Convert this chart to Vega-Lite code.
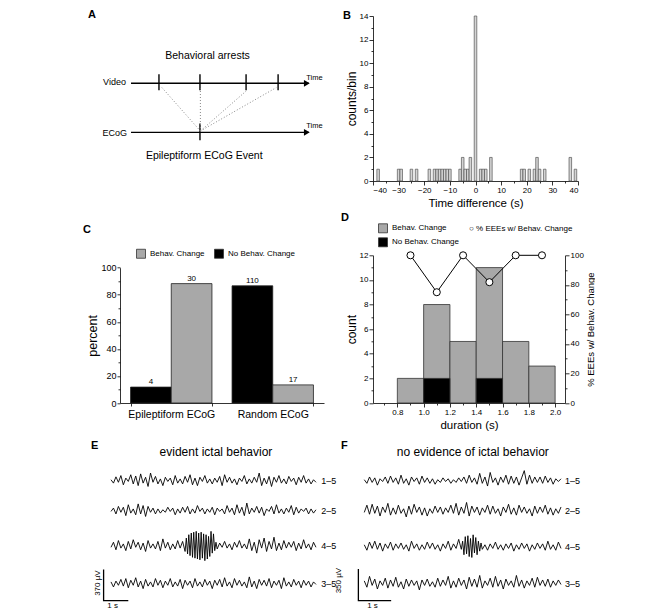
{
"$schema":"https://vega.github.io/schema/vega-lite/v6.json",
"background":"white",
"padding":{"left":82,"top":9,"right":0,"bottom":0},
"columns":2,
"bounds":"flush",
"align":"each",
"spacing":{"row":74.3,"column":49},
"resolve":{"scale":{"color":"independent","shape":"independent"},"legend":{"color":"independent","shape":"independent"}},
"config":{
 "font":"Liberation Sans",
 "view":{"stroke":null},
 "axis":{"domainColor":"black","tickColor":"black","labelColor":"black","titleColor":"black","titleFontWeight":"normal","grid":false,"labelFontSize":8,"tickSize":4,"domainWidth":0.8,"tickWidth":0.8,"labelPadding":1,"titlePadding":2,"labelOverlap":false},
 "legend":{"labelColor":"black","labelFontSize":8,"padding":0},
 "text":{"color":"black"},
 "title":{"color":"black"}
},
"datasets":{
"e":[
{"c":"1–5","t":0,"v":10},{"c":"1–5","t":0.1,"v":-30},{"c":"1–5","t":0.2,"v":45},{"c":"1–5","t":0.3,"v":-20},{"c":"1–5","t":0.4,"v":60},{"c":"1–5","t":0.5,"v":-50},{"c":"1–5","t":0.6,"v":30},{"c":"1–5","t":0.7,"v":-10},{"c":"1–5","t":0.8,"v":70},{"c":"1–5","t":0.9,"v":-40},
{"c":"1–5","t":1,"v":55},{"c":"1–5","t":1.1,"v":-60},{"c":"1–5","t":1.2,"v":80},{"c":"1–5","t":1.3,"v":-30},{"c":"1–5","t":1.4,"v":40},{"c":"1–5","t":1.5,"v":-70},{"c":"1–5","t":1.6,"v":90},{"c":"1–5","t":1.7,"v":-20},{"c":"1–5","t":1.8,"v":50},{"c":"1–5","t":1.9,"v":-40},
{"c":"1–5","t":2,"v":20},{"c":"1–5","t":2.1,"v":-60},{"c":"1–5","t":2.2,"v":40},{"c":"1–5","t":2.3,"v":-10},{"c":"1–5","t":2.4,"v":30},{"c":"1–5","t":2.5,"v":-50},{"c":"1–5","t":2.6,"v":60},{"c":"1–5","t":2.7,"v":-30},{"c":"1–5","t":2.8,"v":20},{"c":"1–5","t":2.9,"v":-40},
{"c":"1–5","t":3,"v":50},{"c":"1–5","t":3.1,"v":-20},{"c":"1–5","t":3.2,"v":70},{"c":"1–5","t":3.3,"v":-50},{"c":"1–5","t":3.4,"v":30},{"c":"1–5","t":3.5,"v":-60},{"c":"1–5","t":3.6,"v":40},{"c":"1–5","t":3.7,"v":-10},{"c":"1–5","t":3.8,"v":60},{"c":"1–5","t":3.9,"v":-30},
{"c":"1–5","t":4,"v":20},{"c":"1–5","t":4.1,"v":-40},{"c":"1–5","t":4.2,"v":30},{"c":"1–5","t":4.3,"v":-20},{"c":"1–5","t":4.4,"v":50},{"c":"1–5","t":4.5,"v":-60},{"c":"1–5","t":4.6,"v":70},{"c":"1–5","t":4.7,"v":-20},{"c":"1–5","t":4.8,"v":40},{"c":"1–5","t":4.9,"v":-30},
{"c":"1–5","t":5,"v":20},{"c":"1–5","t":5.1,"v":-50},{"c":"1–5","t":5.2,"v":30},{"c":"1–5","t":5.3,"v":-10},{"c":"1–5","t":5.4,"v":60},{"c":"1–5","t":5.5,"v":-40},{"c":"1–5","t":5.6,"v":20},{"c":"1–5","t":5.7,"v":-30},{"c":"1–5","t":5.8,"v":40},{"c":"1–5","t":5.9,"v":-20},
{"c":"1–5","t":6,"v":90},{"c":"1–5","t":6.1,"v":-60},{"c":"1–5","t":6.2,"v":30},{"c":"1–5","t":6.3,"v":-40},{"c":"1–5","t":6.4,"v":50},{"c":"1–5","t":6.5,"v":-70},{"c":"1–5","t":6.6,"v":40},{"c":"1–5","t":6.7,"v":-20},{"c":"1–5","t":6.8,"v":60},{"c":"1–5","t":6.9,"v":-30},
{"c":"1–5","t":7,"v":20},{"c":"1–5","t":7.1,"v":-40},{"c":"1–5","t":7.2,"v":50},{"c":"1–5","t":7.3,"v":-10},{"c":"1–5","t":7.4,"v":30},{"c":"1–5","t":7.5,"v":-50},{"c":"1–5","t":7.6,"v":40},{"c":"1–5","t":7.7,"v":-20},{"c":"1–5","t":7.8,"v":60},{"c":"1–5","t":7.9,"v":-30},
{"c":"1–5","t":8,"v":20},{"c":"1–5","t":8.1,"v":-40},{"c":"1–5","t":8.2,"v":10},{"c":"1–5","t":8.3,"v":-20},
{"c":"2–5","t":0,"v":-10},{"c":"2–5","t":0.1,"v":30},{"c":"2–5","t":0.2,"v":-40},{"c":"2–5","t":0.3,"v":50},{"c":"2–5","t":0.4,"v":-20},{"c":"2–5","t":0.5,"v":40},{"c":"2–5","t":0.6,"v":-60},{"c":"2–5","t":0.7,"v":70},{"c":"2–5","t":0.8,"v":-30},{"c":"2–5","t":0.9,"v":20},
{"c":"2–5","t":1,"v":-50},{"c":"2–5","t":1.1,"v":80},{"c":"2–5","t":1.2,"v":-40},{"c":"2–5","t":1.3,"v":60},{"c":"2–5","t":1.4,"v":-70},{"c":"2–5","t":1.5,"v":50},{"c":"2–5","t":1.6,"v":-20},{"c":"2–5","t":1.7,"v":30},{"c":"2–5","t":1.8,"v":-40},{"c":"2–5","t":1.9,"v":20},
{"c":"2–5","t":2,"v":-30},{"c":"2–5","t":2.1,"v":10},{"c":"2–5","t":2.2,"v":-20},{"c":"2–5","t":2.3,"v":40},{"c":"2–5","t":2.4,"v":-10},{"c":"2–5","t":2.5,"v":30},{"c":"2–5","t":2.6,"v":-50},{"c":"2–5","t":2.7,"v":20},{"c":"2–5","t":2.8,"v":-30},{"c":"2–5","t":2.9,"v":40},
{"c":"2–5","t":3,"v":-20},{"c":"2–5","t":3.1,"v":50},{"c":"2–5","t":3.2,"v":-40},{"c":"2–5","t":3.3,"v":20},{"c":"2–5","t":3.4,"v":-30},{"c":"2–5","t":3.5,"v":60},{"c":"2–5","t":3.6,"v":-10},{"c":"2–5","t":3.7,"v":30},{"c":"2–5","t":3.8,"v":-40},{"c":"2–5","t":3.9,"v":20},
{"c":"2–5","t":4,"v":-20},{"c":"2–5","t":4.1,"v":40},{"c":"2–5","t":4.2,"v":-50},{"c":"2–5","t":4.3,"v":30},{"c":"2–5","t":4.4,"v":-10},{"c":"2–5","t":4.5,"v":20},{"c":"2–5","t":4.6,"v":-40},{"c":"2–5","t":4.7,"v":60},{"c":"2–5","t":4.8,"v":-20},{"c":"2–5","t":4.9,"v":30},
{"c":"2–5","t":5,"v":-50},{"c":"2–5","t":5.1,"v":70},{"c":"2–5","t":5.2,"v":-30},{"c":"2–5","t":5.3,"v":40},{"c":"2–5","t":5.4,"v":-60},{"c":"2–5","t":5.5,"v":90},{"c":"2–5","t":5.6,"v":-40},{"c":"2–5","t":5.7,"v":30},{"c":"2–5","t":5.8,"v":-20},{"c":"2–5","t":5.9,"v":50},
{"c":"2–5","t":6,"v":-30},{"c":"2–5","t":6.1,"v":40},{"c":"2–5","t":6.2,"v":-60},{"c":"2–5","t":6.3,"v":20},{"c":"2–5","t":6.4,"v":-10},{"c":"2–5","t":6.5,"v":50},{"c":"2–5","t":6.6,"v":-40},{"c":"2–5","t":6.7,"v":70},{"c":"2–5","t":6.8,"v":-30},{"c":"2–5","t":6.9,"v":20},
{"c":"2–5","t":7,"v":-40},{"c":"2–5","t":7.1,"v":30},{"c":"2–5","t":7.2,"v":-20},{"c":"2–5","t":7.3,"v":60},{"c":"2–5","t":7.4,"v":-50},{"c":"2–5","t":7.5,"v":40},{"c":"2–5","t":7.6,"v":-30},{"c":"2–5","t":7.7,"v":20},{"c":"2–5","t":7.8,"v":-10},{"c":"2–5","t":7.9,"v":30},
{"c":"2–5","t":8,"v":-40},{"c":"2–5","t":8.1,"v":20},{"c":"2–5","t":8.2,"v":-30},{"c":"2–5","t":8.3,"v":10},
{"c":"4–5","t":0,"v":-20},{"c":"4–5","t":0.1,"v":40},{"c":"4–5","t":0.2,"v":-50},{"c":"4–5","t":0.3,"v":60},{"c":"4–5","t":0.4,"v":-30},{"c":"4–5","t":0.5,"v":20},{"c":"4–5","t":0.6,"v":-60},{"c":"4–5","t":0.7,"v":50},{"c":"4–5","t":0.8,"v":-40},{"c":"4–5","t":0.9,"v":70},
{"c":"4–5","t":1,"v":-20},{"c":"4–5","t":1.1,"v":40},{"c":"4–5","t":1.2,"v":-50},{"c":"4–5","t":1.3,"v":30},{"c":"4–5","t":1.4,"v":-70},{"c":"4–5","t":1.5,"v":60},{"c":"4–5","t":1.6,"v":-30},{"c":"4–5","t":1.7,"v":20},{"c":"4–5","t":1.8,"v":-40},{"c":"4–5","t":1.9,"v":50},
{"c":"4–5","t":2,"v":-60},{"c":"4–5","t":2.1,"v":80},{"c":"4–5","t":2.2,"v":-30},{"c":"4–5","t":2.3,"v":40},{"c":"4–5","t":2.4,"v":-50},{"c":"4–5","t":2.5,"v":20},{"c":"4–5","t":2.6,"v":-40},{"c":"4–5","t":2.7,"v":60},{"c":"4–5","t":2.8,"v":-30},{"c":"4–5","t":2.9,"v":50},
{"c":"4–5","t":3,"v":-70},{"c":"4–5","t":3.05,"v":90},{"c":"4–5","t":3.1,"v":-100},{"c":"4–5","t":3.15,"v":130},{"c":"4–5","t":3.2,"v":-120},{"c":"4–5","t":3.25,"v":150},{"c":"4–5","t":3.3,"v":-140},{"c":"4–5","t":3.35,"v":160},{"c":"4–5","t":3.4,"v":-150},{"c":"4–5","t":3.45,"v":170},
{"c":"4–5","t":3.5,"v":-160},{"c":"4–5","t":3.55,"v":150},{"c":"4–5","t":3.6,"v":-170},{"c":"4–5","t":3.65,"v":160},{"c":"4–5","t":3.7,"v":-150},{"c":"4–5","t":3.75,"v":140},{"c":"4–5","t":3.8,"v":-180},{"c":"4–5","t":3.85,"v":130},{"c":"4–5","t":3.9,"v":-160},{"c":"4–5","t":3.95,"v":110},
{"c":"4–5","t":4,"v":-130},{"c":"4–5","t":4.05,"v":170},{"c":"4–5","t":4.1,"v":-90},{"c":"4–5","t":4.15,"v":140},{"c":"4–5","t":4.2,"v":-60},{"c":"4–5","t":4.25,"v":40},
{"c":"4–5","t":4.3,"v":-40},{"c":"4–5","t":4.4,"v":30},{"c":"4–5","t":4.5,"v":-20},{"c":"4–5","t":4.6,"v":50},{"c":"4–5","t":4.7,"v":-30},{"c":"4–5","t":4.8,"v":20},{"c":"4–5","t":4.9,"v":-50},{"c":"4–5","t":5,"v":40},{"c":"4–5","t":5.1,"v":-20},{"c":"4–5","t":5.2,"v":60},
{"c":"4–5","t":5.3,"v":-30},{"c":"4–5","t":5.4,"v":20},{"c":"4–5","t":5.5,"v":-40},{"c":"4–5","t":5.6,"v":80},{"c":"4–5","t":5.7,"v":-60},{"c":"4–5","t":5.8,"v":40},{"c":"4–5","t":5.9,"v":-90},{"c":"4–5","t":6,"v":70},{"c":"4–5","t":6.1,"v":-30},{"c":"4–5","t":6.2,"v":90},
{"c":"4–5","t":6.3,"v":-70},{"c":"4–5","t":6.4,"v":50},{"c":"4–5","t":6.5,"v":-40},{"c":"4–5","t":6.6,"v":100},{"c":"4–5","t":6.7,"v":-60},{"c":"4–5","t":6.8,"v":30},{"c":"4–5","t":6.9,"v":-50},{"c":"4–5","t":7,"v":60},{"c":"4–5","t":7.1,"v":-30},{"c":"4–5","t":7.2,"v":40},
{"c":"4–5","t":7.3,"v":-20},{"c":"4–5","t":7.4,"v":50},{"c":"4–5","t":7.5,"v":-60},{"c":"4–5","t":7.6,"v":30},{"c":"4–5","t":7.7,"v":-40},{"c":"4–5","t":7.8,"v":70},{"c":"4–5","t":7.9,"v":-30},{"c":"4–5","t":8,"v":20},{"c":"4–5","t":8.1,"v":-50},{"c":"4–5","t":8.2,"v":40},
{"c":"4–5","t":8.3,"v":-20},
{"c":"3–5","t":0,"v":20},{"c":"3–5","t":0.1,"v":-40},{"c":"3–5","t":0.2,"v":30},{"c":"3–5","t":0.3,"v":-20},{"c":"3–5","t":0.4,"v":50},{"c":"3–5","t":0.5,"v":-30},{"c":"3–5","t":0.6,"v":60},{"c":"3–5","t":0.7,"v":-50},{"c":"3–5","t":0.8,"v":40},{"c":"3–5","t":0.9,"v":-20},
{"c":"3–5","t":1,"v":70},{"c":"3–5","t":1.1,"v":-40},{"c":"3–5","t":1.2,"v":30},{"c":"3–5","t":1.3,"v":-60},{"c":"3–5","t":1.4,"v":50},{"c":"3–5","t":1.5,"v":-30},{"c":"3–5","t":1.6,"v":20},{"c":"3–5","t":1.7,"v":-40},{"c":"3–5","t":1.8,"v":60},{"c":"3–5","t":1.9,"v":-20},
{"c":"3–5","t":2,"v":40},{"c":"3–5","t":2.1,"v":-50},{"c":"3–5","t":2.2,"v":30},{"c":"3–5","t":2.3,"v":-20},{"c":"3–5","t":2.4,"v":60},{"c":"3–5","t":2.5,"v":-40},{"c":"3–5","t":2.6,"v":20},{"c":"3–5","t":2.7,"v":-30},{"c":"3–5","t":2.8,"v":50},{"c":"3–5","t":2.9,"v":-60},
{"c":"3–5","t":3,"v":40},{"c":"3–5","t":3.1,"v":-20},{"c":"3–5","t":3.2,"v":30},{"c":"3–5","t":3.3,"v":-50},{"c":"3–5","t":3.4,"v":60},{"c":"3–5","t":3.5,"v":-30},{"c":"3–5","t":3.6,"v":20},{"c":"3–5","t":3.7,"v":-40},{"c":"3–5","t":3.8,"v":50},{"c":"3–5","t":3.9,"v":-20},
{"c":"3–5","t":4,"v":30},{"c":"3–5","t":4.1,"v":-60},{"c":"3–5","t":4.2,"v":40},{"c":"3–5","t":4.3,"v":-20},{"c":"3–5","t":4.4,"v":50},{"c":"3–5","t":4.5,"v":-40},{"c":"3–5","t":4.6,"v":70},{"c":"3–5","t":4.7,"v":-30},{"c":"3–5","t":4.8,"v":20},{"c":"3–5","t":4.9,"v":-50},
{"c":"3–5","t":5,"v":60},{"c":"3–5","t":5.1,"v":-20},{"c":"3–5","t":5.2,"v":40},{"c":"3–5","t":5.3,"v":-30},{"c":"3–5","t":5.4,"v":20},{"c":"3–5","t":5.5,"v":-50},{"c":"3–5","t":5.6,"v":80},{"c":"3–5","t":5.7,"v":-40},{"c":"3–5","t":5.8,"v":30},{"c":"3–5","t":5.9,"v":-60},
{"c":"3–5","t":6,"v":50},{"c":"3–5","t":6.1,"v":-20},{"c":"3–5","t":6.2,"v":40},{"c":"3–5","t":6.3,"v":-30},{"c":"3–5","t":6.4,"v":60},{"c":"3–5","t":6.5,"v":-50},{"c":"3–5","t":6.6,"v":30},{"c":"3–5","t":6.7,"v":-20},{"c":"3–5","t":6.8,"v":40},{"c":"3–5","t":6.9,"v":-60},
{"c":"3–5","t":7,"v":70},{"c":"3–5","t":7.1,"v":-30},{"c":"3–5","t":7.2,"v":20},{"c":"3–5","t":7.3,"v":-40},{"c":"3–5","t":7.4,"v":50},{"c":"3–5","t":7.5,"v":-20},{"c":"3–5","t":7.6,"v":30},{"c":"3–5","t":7.7,"v":-50},{"c":"3–5","t":7.8,"v":40},{"c":"3–5","t":7.9,"v":-20},
{"c":"3–5","t":8,"v":30},{"c":"3–5","t":8.1,"v":-40},{"c":"3–5","t":8.2,"v":20},{"c":"3–5","t":8.3,"v":-10}
],
"f":[
{"c":"1–5","t":0,"v":10},{"c":"1–5","t":0.08,"v":-30},{"c":"1–5","t":0.16,"v":40},{"c":"1–5","t":0.24,"v":-20},{"c":"1–5","t":0.32,"v":30},{"c":"1–5","t":0.4,"v":-50},{"c":"1–5","t":0.48,"v":20},{"c":"1–5","t":0.56,"v":-10},{"c":"1–5","t":0.64,"v":40},{"c":"1–5","t":0.72,"v":-30},
{"c":"1–5","t":0.8,"v":50},{"c":"1–5","t":0.88,"v":-20},{"c":"1–5","t":0.96,"v":30},{"c":"1–5","t":1.04,"v":-40},{"c":"1–5","t":1.12,"v":60},{"c":"1–5","t":1.2,"v":-30},{"c":"1–5","t":1.28,"v":20},{"c":"1–5","t":1.36,"v":-50},{"c":"1–5","t":1.44,"v":40},{"c":"1–5","t":1.52,"v":-10},
{"c":"1–5","t":1.6,"v":30},{"c":"1–5","t":1.68,"v":-40},{"c":"1–5","t":1.76,"v":50},{"c":"1–5","t":1.84,"v":-20},{"c":"1–5","t":1.92,"v":30},{"c":"1–5","t":2,"v":-30},{"c":"1–5","t":2.08,"v":20},{"c":"1–5","t":2.16,"v":-40},{"c":"1–5","t":2.24,"v":10},{"c":"1–5","t":2.32,"v":-20},
{"c":"1–5","t":2.4,"v":30},{"c":"1–5","t":2.48,"v":-10},{"c":"1–5","t":2.56,"v":20},{"c":"1–5","t":2.64,"v":-30},{"c":"1–5","t":2.72,"v":10},{"c":"1–5","t":2.8,"v":-20},{"c":"1–5","t":2.88,"v":30},{"c":"1–5","t":2.96,"v":-10},{"c":"1–5","t":3.04,"v":40},{"c":"1–5","t":3.12,"v":-30},
{"c":"1–5","t":3.2,"v":60},{"c":"1–5","t":3.28,"v":-20},{"c":"1–5","t":3.36,"v":30},{"c":"1–5","t":3.44,"v":-40},{"c":"1–5","t":3.52,"v":80},{"c":"1–5","t":3.6,"v":-30},{"c":"1–5","t":3.68,"v":40},{"c":"1–5","t":3.76,"v":-60},{"c":"1–5","t":3.84,"v":90},{"c":"1–5","t":3.92,"v":-20},
{"c":"1–5","t":4,"v":30},{"c":"1–5","t":4.08,"v":-50},{"c":"1–5","t":4.16,"v":40},{"c":"1–5","t":4.24,"v":-20},{"c":"1–5","t":4.32,"v":60},{"c":"1–5","t":4.4,"v":-40},{"c":"1–5","t":4.48,"v":50},{"c":"1–5","t":4.56,"v":-30},{"c":"1–5","t":4.64,"v":40},{"c":"1–5","t":4.72,"v":-50},
{"c":"1–5","t":4.8,"v":30},{"c":"1–5","t":4.88,"v":110},{"c":"1–5","t":4.96,"v":-40},{"c":"1–5","t":5.04,"v":60},{"c":"1–5","t":5.12,"v":-30},{"c":"1–5","t":5.2,"v":40},{"c":"1–5","t":5.28,"v":-20},{"c":"1–5","t":5.36,"v":40},{"c":"1–5","t":5.44,"v":-30},{"c":"1–5","t":5.52,"v":50},
{"c":"1–5","t":5.6,"v":-20},{"c":"1–5","t":5.68,"v":30},{"c":"1–5","t":5.76,"v":-40},{"c":"1–5","t":5.84,"v":20},{"c":"1–5","t":5.92,"v":-10},{"c":"1–5","t":6,"v":20},
{"c":"2–5","t":0,"v":-20},{"c":"2–5","t":0.08,"v":60},{"c":"2–5","t":0.16,"v":-40},{"c":"2–5","t":0.24,"v":70},{"c":"2–5","t":0.32,"v":-30},{"c":"2–5","t":0.4,"v":50},{"c":"2–5","t":0.48,"v":-60},{"c":"2–5","t":0.56,"v":40},{"c":"2–5","t":0.64,"v":-20},{"c":"2–5","t":0.72,"v":80},
{"c":"2–5","t":0.8,"v":-50},{"c":"2–5","t":0.88,"v":30},{"c":"2–5","t":0.96,"v":-40},{"c":"2–5","t":1.04,"v":60},{"c":"2–5","t":1.12,"v":-30},{"c":"2–5","t":1.2,"v":20},{"c":"2–5","t":1.28,"v":-70},{"c":"2–5","t":1.36,"v":50},{"c":"2–5","t":1.44,"v":-40},{"c":"2–5","t":1.52,"v":70},
{"c":"2–5","t":1.6,"v":-20},{"c":"2–5","t":1.68,"v":40},{"c":"2–5","t":1.76,"v":-50},{"c":"2–5","t":1.84,"v":30},{"c":"2–5","t":1.92,"v":-60},{"c":"2–5","t":2,"v":20},{"c":"2–5","t":2.08,"v":-30},{"c":"2–5","t":2.16,"v":50},{"c":"2–5","t":2.24,"v":-20},{"c":"2–5","t":2.32,"v":40},
{"c":"2–5","t":2.4,"v":-40},{"c":"2–5","t":2.48,"v":30},{"c":"2–5","t":2.56,"v":-20},{"c":"2–5","t":2.64,"v":60},{"c":"2–5","t":2.72,"v":-30},{"c":"2–5","t":2.8,"v":80},{"c":"2–5","t":2.88,"v":-50},{"c":"2–5","t":2.96,"v":40},{"c":"2–5","t":3.04,"v":-30},{"c":"2–5","t":3.12,"v":90},
{"c":"2–5","t":3.2,"v":-60},{"c":"2–5","t":3.28,"v":50},{"c":"2–5","t":3.36,"v":-20},{"c":"2–5","t":3.44,"v":40},{"c":"2–5","t":3.52,"v":-50},{"c":"2–5","t":3.6,"v":30},{"c":"2–5","t":3.68,"v":-20},{"c":"2–5","t":3.76,"v":60},{"c":"2–5","t":3.84,"v":-40},{"c":"2–5","t":3.92,"v":50},
{"c":"2–5","t":4,"v":-30},{"c":"2–5","t":4.08,"v":20},{"c":"2–5","t":4.16,"v":-60},{"c":"2–5","t":4.24,"v":40},{"c":"2–5","t":4.32,"v":-20},{"c":"2–5","t":4.4,"v":70},{"c":"2–5","t":4.48,"v":-40},{"c":"2–5","t":4.56,"v":30},{"c":"2–5","t":4.64,"v":-50},{"c":"2–5","t":4.72,"v":60},
{"c":"2–5","t":4.8,"v":-20},{"c":"2–5","t":4.88,"v":40},{"c":"2–5","t":4.96,"v":-30},{"c":"2–5","t":5.04,"v":20},{"c":"2–5","t":5.12,"v":-60},{"c":"2–5","t":5.2,"v":50},{"c":"2–5","t":5.28,"v":-30},{"c":"2–5","t":5.36,"v":40},{"c":"2–5","t":5.44,"v":-20},{"c":"2–5","t":5.52,"v":60},
{"c":"2–5","t":5.6,"v":-40},{"c":"2–5","t":5.68,"v":30},{"c":"2–5","t":5.76,"v":-50},{"c":"2–5","t":5.84,"v":20},{"c":"2–5","t":5.92,"v":-30},{"c":"2–5","t":6,"v":40},
{"c":"4–5","t":0,"v":20},{"c":"4–5","t":0.08,"v":-40},{"c":"4–5","t":0.16,"v":50},{"c":"4–5","t":0.24,"v":-20},{"c":"4–5","t":0.32,"v":60},{"c":"4–5","t":0.4,"v":-30},{"c":"4–5","t":0.48,"v":40},{"c":"4–5","t":0.56,"v":-50},{"c":"4–5","t":0.64,"v":30},{"c":"4–5","t":0.72,"v":-20},
{"c":"4–5","t":0.8,"v":50},{"c":"4–5","t":0.88,"v":-40},{"c":"4–5","t":0.96,"v":30},{"c":"4–5","t":1.04,"v":-20},{"c":"4–5","t":1.12,"v":40},{"c":"4–5","t":1.2,"v":-30},{"c":"4–5","t":1.28,"v":20},{"c":"4–5","t":1.36,"v":-50},{"c":"4–5","t":1.44,"v":60},{"c":"4–5","t":1.52,"v":-20},
{"c":"4–5","t":1.6,"v":30},{"c":"4–5","t":1.68,"v":-40},{"c":"4–5","t":1.76,"v":20},{"c":"4–5","t":1.84,"v":-30},{"c":"4–5","t":1.92,"v":50},{"c":"4–5","t":2,"v":-20},{"c":"4–5","t":2.08,"v":40},{"c":"4–5","t":2.16,"v":-30},{"c":"4–5","t":2.24,"v":20},{"c":"4–5","t":2.32,"v":-50},
{"c":"4–5","t":2.4,"v":30},{"c":"4–5","t":2.48,"v":-20},{"c":"4–5","t":2.56,"v":60},{"c":"4–5","t":2.64,"v":-40},{"c":"4–5","t":2.72,"v":30},{"c":"4–5","t":2.8,"v":-20},{"c":"4–5","t":2.88,"v":80},{"c":"4–5","t":2.96,"v":-30},
{"c":"4–5","t":3,"v":60},{"c":"4–5","t":3.04,"v":-90},{"c":"4–5","t":3.08,"v":110},{"c":"4–5","t":3.12,"v":-80},{"c":"4–5","t":3.16,"v":120},{"c":"4–5","t":3.2,"v":-110},{"c":"4–5","t":3.24,"v":90},{"c":"4–5","t":3.28,"v":-120},{"c":"4–5","t":3.32,"v":130},{"c":"4–5","t":3.36,"v":-70},
{"c":"4–5","t":3.4,"v":100},{"c":"4–5","t":3.44,"v":-90},{"c":"4–5","t":3.48,"v":60},{"c":"4–5","t":3.52,"v":-50},{"c":"4–5","t":3.56,"v":40},
{"c":"4–5","t":3.6,"v":-30},{"c":"4–5","t":3.68,"v":20},{"c":"4–5","t":3.76,"v":-40},{"c":"4–5","t":3.84,"v":30},{"c":"4–5","t":3.92,"v":-20},{"c":"4–5","t":4,"v":50},{"c":"4–5","t":4.08,"v":-30},{"c":"4–5","t":4.16,"v":20},{"c":"4–5","t":4.24,"v":-40},{"c":"4–5","t":4.32,"v":30},
{"c":"4–5","t":4.4,"v":-20},{"c":"4–5","t":4.48,"v":40},{"c":"4–5","t":4.56,"v":-50},{"c":"4–5","t":4.64,"v":20},{"c":"4–5","t":4.72,"v":-30},{"c":"4–5","t":4.8,"v":40},{"c":"4–5","t":4.88,"v":-20},{"c":"4–5","t":4.96,"v":30},{"c":"4–5","t":5.04,"v":-50},{"c":"4–5","t":5.12,"v":20},
{"c":"4–5","t":5.2,"v":-30},{"c":"4–5","t":5.28,"v":40},{"c":"4–5","t":5.36,"v":-20},{"c":"4–5","t":5.44,"v":30},{"c":"4–5","t":5.52,"v":-40},{"c":"4–5","t":5.6,"v":60},{"c":"4–5","t":5.68,"v":-30},{"c":"4–5","t":5.76,"v":20},{"c":"4–5","t":5.84,"v":-40},{"c":"4–5","t":5.92,"v":50},
{"c":"4–5","t":6,"v":-20},
{"c":"3–5","t":0,"v":30},{"c":"3–5","t":0.08,"v":-40},{"c":"3–5","t":0.16,"v":80},{"c":"3–5","t":0.24,"v":-20},{"c":"3–5","t":0.32,"v":50},{"c":"3–5","t":0.4,"v":-60},{"c":"3–5","t":0.48,"v":30},{"c":"3–5","t":0.56,"v":-20},{"c":"3–5","t":0.64,"v":60},{"c":"3–5","t":0.72,"v":-50},
{"c":"3–5","t":0.8,"v":40},{"c":"3–5","t":0.88,"v":-30},{"c":"3–5","t":0.96,"v":70},{"c":"3–5","t":1.04,"v":-40},{"c":"3–5","t":1.12,"v":20},{"c":"3–5","t":1.2,"v":-60},{"c":"3–5","t":1.28,"v":50},{"c":"3–5","t":1.36,"v":-30},{"c":"3–5","t":1.44,"v":40},{"c":"3–5","t":1.52,"v":-20},
{"c":"3–5","t":1.6,"v":30},{"c":"3–5","t":1.68,"v":-70},{"c":"3–5","t":1.76,"v":40},{"c":"3–5","t":1.84,"v":-20},{"c":"3–5","t":1.92,"v":50},{"c":"3–5","t":2,"v":-30},{"c":"3–5","t":2.08,"v":20},{"c":"3–5","t":2.16,"v":-40},{"c":"3–5","t":2.24,"v":60},{"c":"3–5","t":2.32,"v":-30},
{"c":"3–5","t":2.4,"v":40},{"c":"3–5","t":2.48,"v":-20},{"c":"3–5","t":2.56,"v":80},{"c":"3–5","t":2.64,"v":-50},{"c":"3–5","t":2.72,"v":30},{"c":"3–5","t":2.8,"v":-40},{"c":"3–5","t":2.88,"v":60},{"c":"3–5","t":2.96,"v":-20},{"c":"3–5","t":3.04,"v":40},{"c":"3–5","t":3.12,"v":-60},
{"c":"3–5","t":3.2,"v":70},{"c":"3–5","t":3.28,"v":-30},{"c":"3–5","t":3.36,"v":50},{"c":"3–5","t":3.44,"v":-40},{"c":"3–5","t":3.52,"v":90},{"c":"3–5","t":3.6,"v":-50},{"c":"3–5","t":3.68,"v":30},{"c":"3–5","t":3.76,"v":-20},{"c":"3–5","t":3.84,"v":60},{"c":"3–5","t":3.92,"v":-40},
{"c":"3–5","t":4,"v":80},{"c":"3–5","t":4.08,"v":-30},{"c":"3–5","t":4.16,"v":40},{"c":"3–5","t":4.24,"v":-60},{"c":"3–5","t":4.32,"v":50},{"c":"3–5","t":4.4,"v":-20},{"c":"3–5","t":4.48,"v":30},{"c":"3–5","t":4.56,"v":-40},{"c":"3–5","t":4.64,"v":90},{"c":"3–5","t":4.72,"v":-30},
{"c":"3–5","t":4.8,"v":40},{"c":"3–5","t":4.88,"v":-50},{"c":"3–5","t":4.96,"v":30},{"c":"3–5","t":5.04,"v":-20},{"c":"3–5","t":5.12,"v":60},{"c":"3–5","t":5.2,"v":-40},{"c":"3–5","t":5.28,"v":70},{"c":"3–5","t":5.36,"v":-20},{"c":"3–5","t":5.44,"v":40},{"c":"3–5","t":5.52,"v":-30},
{"c":"3–5","t":5.6,"v":50},{"c":"3–5","t":5.68,"v":-40},{"c":"3–5","t":5.76,"v":30},{"c":"3–5","t":5.84,"v":-20},{"c":"3–5","t":5.92,"v":40},{"c":"3–5","t":6,"v":-10}
]
},
"concat":[
{
 "width":204,"height":165,
 "layer":[
  {"data":{"values":[{"axis":"Video","x":5.4,"x2":92.5,"y":59.2},{"axis":"ECoG","x":5.4,"x2":92.5,"y":29.5}]},
   "mark":{"type":"rule","color":"black","strokeWidth":1.4},
   "encoding":{"x":{"field":"x","type":"quantitative","scale":{"domain":[0,100],"nice":false},"axis":null},"x2":{"field":"x2"},"y":{"field":"y","type":"quantitative","scale":{"domain":[0,100],"nice":false},"axis":null}}},
  {"data":{"values":[{"x":19.1,"y":55,"y2":64.7},{"x":39.2,"y":55,"y2":64.7},{"x":61.8,"y":55,"y2":64.7},{"x":77.5,"y":55,"y2":64.7},{"x":39.2,"y":24.7,"y2":34.8}]},
   "mark":{"type":"rule","color":"black","strokeWidth":1.4},
   "encoding":{"x":{"field":"x","type":"quantitative"},"y":{"field":"y","type":"quantitative"},"y2":{"field":"y2"}}},
  {"data":{"values":[{"x":39.4,"y":30.3,"x2":20,"y2":57.4},{"x":39.4,"y":30.3,"x2":39.4,"y2":56},{"x":39.4,"y":30.3,"x2":61.8,"y2":54.5},{"x":39.4,"y":30.3,"x2":76.6,"y2":56.6}]},
   "mark":{"type":"rule","color":"#888888","strokeWidth":1,"strokeDash":[1,2]},
   "encoding":{"x":{"field":"x","type":"quantitative"},"y":{"field":"y","type":"quantitative"},"x2":{"field":"x2"},"y2":{"field":"y2"}}},
  {"data":{"values":[{"x":91.6,"y":59.2},{"x":91.6,"y":29.5}]},
   "mark":{"type":"point","shape":"triangle-right","filled":true,"color":"black","size":45,"opacity":1},
   "encoding":{"x":{"field":"x","type":"quantitative"},"y":{"field":"y","type":"quantitative"}}},
  {"data":{"values":[{"x":42.9,"y":75.6,"label":"Behavioral arrests"},{"x":41.3,"y":15,"label":"Epileptiform ECoG Event"}]},
   "mark":{"type":"text","fontSize":10.5,"baseline":"middle"},
   "encoding":{"x":{"field":"x","type":"quantitative"},"y":{"field":"y","type":"quantitative"},"text":{"field":"label"}}},
  {"data":{"values":[{"x":2.9,"y":60,"label":"Video"},{"x":3.4,"y":29,"label":"ECoG"}]},
   "mark":{"type":"text","fontSize":9,"align":"right","baseline":"middle"},
   "encoding":{"x":{"field":"x","type":"quantitative"},"y":{"field":"y","type":"quantitative"},"text":{"field":"label"}}},
  {"data":{"values":[{"x":95.3,"y":62.7,"label":"Time"},{"x":95.3,"y":33.2,"label":"Time"}]},
   "mark":{"type":"text","fontSize":7.5,"baseline":"middle"},
   "encoding":{"x":{"field":"x","type":"quantitative"},"y":{"field":"y","type":"quantitative"},"text":{"field":"label"}}},
  {"data":{"values":[{"x":-15.7,"y":100.4,"label":"A"}]},
   "mark":{"type":"text","fontSize":11,"fontWeight":"bold","align":"left","baseline":"middle"},
   "encoding":{"x":{"field":"x","type":"quantitative"},"y":{"field":"y","type":"quantitative"},"text":{"field":"label"}}}
 ]
},
{
 "width":205,"height":165,
 "title":{"text":"B","anchor":"start","frame":"bounds","fontSize":11,"fontWeight":"bold","baseline":"middle","offset":-15,"dx":-2},
 "data":{"values":[
    {"lo":-38.5,"hi":-37.5,"n":1},{"lo":-30.5,"hi":-29.5,"n":1},{"lo":-29.5,"hi":-28.5,"n":1},{"lo":-25.5,"hi":-24.5,"n":1},{"lo":-23.5,"hi":-22.5,"n":1},{"lo":-18.5,"hi":-17.5,"n":1},
    {"lo":-16.5,"hi":-15.5,"n":1},{"lo":-15.5,"hi":-14.5,"n":1},{"lo":-14.5,"hi":-13.5,"n":1},{"lo":-13.5,"hi":-12.5,"n":1},{"lo":-12.5,"hi":-11.5,"n":1},{"lo":-11.5,"hi":-10.5,"n":1},{"lo":-10.5,"hi":-9.5,"n":1},
    {"lo":-6.5,"hi":-5.5,"n":1},{"lo":-5.5,"hi":-4.5,"n":2},{"lo":-4.5,"hi":-3.5,"n":1},{"lo":-3.5,"hi":-2.5,"n":1},{"lo":-2.5,"hi":-1.5,"n":2},{"lo":-0.5,"hi":0.5,"n":14},
    {"lo":1.5,"hi":2.5,"n":1},{"lo":2.5,"hi":3.5,"n":1},{"lo":3.5,"hi":4.5,"n":1},{"lo":5.5,"hi":6.5,"n":2},
    {"lo":17.5,"hi":18.5,"n":1},{"lo":18.5,"hi":19.5,"n":1},{"lo":20.5,"hi":21.5,"n":1},{"lo":22.5,"hi":23.5,"n":1},{"lo":23.5,"hi":24.5,"n":2},{"lo":24.5,"hi":25.5,"n":1},{"lo":26.5,"hi":27.5,"n":1},
    {"lo":36.5,"hi":37.5,"n":2},{"lo":38.5,"hi":39.5,"n":1}]},
 "mark":{"type":"bar","fill":"#d4d4d4","stroke":"#555555","strokeWidth":0.7},
 "encoding":{
    "x":{"field":"lo","type":"quantitative","scale":{"domain":[-40,40],"nice":false},"axis":{"values":[-40,-35,-30,-25,-20,-15,-10,-5,0,5,10,15,20,25,30,35,40],"labelOverlap":false,"labelExpr":"datum.value % 10 === 0 ? datum.label : ''","tickSize":{"condition":{"test":"datum.value % 10 === 0","value":4},"value":2},"title":"Time difference (s)","titleFontSize":11.5,"titlePadding":3}},
    "x2":{"field":"hi"},
    "y":{"field":"n","type":"quantitative","scale":{"domain":[0,14]},"axis":{"values":[0,1,2,3,4,5,6,7,8,9,10,11,12,13,14],"labelOverlap":false,"labelExpr":"datum.value % 2 === 0 ? datum.label : ''","tickSize":{"condition":{"test":"datum.value % 2 === 0","value":4},"value":2},"title":"counts/bin","titleFontSize":12,"titlePadding":1}},
    "y2":{"datum":0}}
},
{
 "width":204,"height":147.7,
 "title":{"text":"C","anchor":"start","frame":"bounds","fontSize":11,"fontWeight":"bold","offset":13,"dx":-4},
 "data":{"values":[
   {"ecog":"Epileptiform ECoG","group":"No Behav. Change","n":4,"pct":11.76},
   {"ecog":"Epileptiform ECoG","group":"Behav. Change","n":30,"pct":88.24},
   {"ecog":"Random ECoG","group":"No Behav. Change","n":110,"pct":86.61},
   {"ecog":"Random ECoG","group":"Behav. Change","n":17,"pct":13.39}]},
 "encoding":{
   "x":{"field":"ecog","type":"nominal","sort":null,"scale":{"paddingInner":0.198,"paddingOuter":0.104},"axis":{"title":null,"labelAngle":0,"labelFontSize":10.5,"tickBand":"extent","tickSize":3,"labelPadding":3}},
   "xOffset":{"field":"group","type":"nominal","scale":{"domain":["No Behav. Change","Behav. Change"],"paddingInner":0,"paddingOuter":0}},
   "y":{"field":"pct","type":"quantitative","scale":{"domain":[0,100],"range":[147.7,12.4]},"axis":{"values":[0,10,20,30,40,50,60,70,80,90,100],"labelOverlap":false,"labelExpr":"datum.value % 20 === 0 ? datum.label : ''","tickSize":{"condition":{"test":"datum.value % 20 === 0","value":3},"value":2},"title":"percent","titleFontSize":12.5,"labelFontSize":9,"titlePadding":1}}
 },
 "layer":[
   {"mark":{"type":"bar","stroke":"#222222","strokeWidth":0.8},
    "encoding":{"color":{"field":"group","type":"nominal","scale":{"domain":["Behav. Change","No Behav. Change"],"range":["#a8a8a8","#000000"]},"legend":{"orient":"none","legendX":16,"legendY":-7,"direction":"horizontal","title":null,"symbolType":"square","symbolSize":81,"symbolStrokeColor":"#333333","symbolStrokeWidth":0.8,"labelFontSize":8,"columnPadding":7,"labelOffset":4}}}},
   {"mark":{"type":"text","baseline":"bottom","dy":-1,"fontSize":8},"encoding":{"text":{"field":"n"}}}
 ]
},
{
 "width":192,"height":147.7,
 "title":{"text":"D","anchor":"start","frame":"bounds","fontSize":11,"fontWeight":"bold","baseline":"middle","offset":-6,"dx":-4},
 "layer":[
  {"data":{"values":[
      {"lo":0.8,"hi":1.0,"n":2,"group":"Behav. Change"},{"lo":1.0,"hi":1.2,"n":8,"group":"Behav. Change"},{"lo":1.2,"hi":1.4,"n":5,"group":"Behav. Change"},{"lo":1.4,"hi":1.6,"n":11,"group":"Behav. Change"},{"lo":1.6,"hi":1.8,"n":5,"group":"Behav. Change"},{"lo":1.8,"hi":2.0,"n":3,"group":"Behav. Change"},
      {"lo":1.0,"hi":1.2,"n":2,"group":"No Behav. Change"},{"lo":1.4,"hi":1.6,"n":2,"group":"No Behav. Change"}]},
   "mark":{"type":"bar","stroke":"#333333","strokeWidth":0.8},
   "encoding":{
      "x":{"field":"lo","type":"quantitative","scale":{"domain":[0.615,2.075],"nice":false,"zero":false},"axis":{"values":[0.7,0.8,0.9,1.0,1.1,1.2,1.3,1.4,1.5,1.6,1.7,1.8,1.9,2.0],"labelOverlap":false,"format":".1f","labelExpr":"round(datum.value*10) % 2 === 0 ? datum.label : ''","tickSize":{"condition":{"test":"round(datum.value*10) % 2 === 0","value":4},"value":2},"title":"duration (s)","titleFontSize":11.5,"titlePadding":3}},
      "x2":{"field":"hi"},
      "y":{"field":"n","type":"quantitative","stack":null,"scale":{"domain":[0,12]},"axis":{"values":[0,1,2,3,4,5,6,7,8,9,10,11,12],"labelOverlap":false,"labelExpr":"datum.value % 2 === 0 ? datum.label : ''","tickSize":{"condition":{"test":"datum.value % 2 === 0","value":4},"value":2},"title":"count","titleFontSize":12,"titlePadding":1}},
      "y2":{"datum":0},
      "color":{"field":"group","type":"nominal","scale":{"domain":["Behav. Change","No Behav. Change"],"range":["#a8a8a8","#000000"]},"legend":{"orient":"none","legendX":5,"legendY":-32,"direction":"vertical","title":null,"symbolType":"square","symbolSize":81,"symbolStrokeColor":"#333333","symbolStrokeWidth":0.8,"labelFontSize":8,"rowPadding":0,"labelOffset":4}}
   }},
  {"data":{"values":[{"d":0.9,"pct":100},{"d":1.1,"pct":75},{"d":1.3,"pct":100},{"d":1.5,"pct":81.8},{"d":1.7,"pct":100},{"d":1.9,"pct":100}]},
   "encoding":{"x":{"field":"d","type":"quantitative","axis":{"values":[0.7,0.8,0.9,1.0,1.1,1.2,1.3,1.4,1.5,1.6,1.7,1.8,1.9,2.0],"labelOverlap":false,"format":".1f","labelExpr":"round(datum.value*10) % 2 === 0 ? datum.label : ''","tickSize":{"condition":{"test":"round(datum.value*10) % 2 === 0","value":4},"value":2},"title":"duration (s)","titleFontSize":11.5,"titlePadding":3}},"y":{"field":"pct","type":"quantitative","scale":{"domain":[0,100]},"axis":{"orient":"right","values":[0,10,20,30,40,50,60,70,80,90,100],"labelOverlap":false,"labelExpr":"datum.value % 20 === 0 ? datum.label : ''","tickSize":{"condition":{"test":"datum.value % 20 === 0","value":4},"value":2},"title":"% EEEs w/ Behav. Change","titleFontSize":9.5,"titleAngle":270,"titleBaseline":"top","titlePadding":2}}},
   "layer":[
    {"mark":{"type":"line","color":"black","strokeWidth":1}},
    {"mark":{"type":"point","filled":true,"fill":"white","stroke":"black","strokeWidth":1,"size":50,"opacity":1},
     "encoding":{"shape":{"datum":"% EEEs w/ Behav. Change","type":"nominal","scale":{"range":["circle"]},"legend":{"orient":"none","legendX":84,"legendY":-31,"title":null,"labelFontSize":8,"symbolOpacity":0,"symbolSize":50,"labelOffset":3,"labelExpr":"'○ ' + datum.label"}}}}
   ]}
 ],
 "resolve":{"scale":{"y":"independent"}}
},
{
 "width":197.7,"height":109,
 "layer":[
  {"layer":[
    {"data":{"name":"e"},"transform":[{"filter":"datum.c === '1–5'"}],
     "mark":{"type":"line","color":"black","strokeWidth":0.9},
     "encoding":{"x":{"field":"t","type":"quantitative","scale":{"domain":[0.364,8.37],"nice":false,"zero":false},"axis":null},
                 "y":{"field":"v","type":"quantitative","scale":{"domain":[-1265.7,35.8],"nice":false,"zero":false},"axis":null}}},
    {"data":{"values":[{"label":"1–5"}]},"mark":{"type":"text","fontSize":9,"align":"left","baseline":"middle"},
     "encoding":{"x":{"datum":8.51,"type":"quantitative"},"y":{"datum":0,"type":"quantitative"},"text":{"field":"label"}}},
    {"data":{"values":[{"label":"evident ictal behavior"}]},"mark":{"type":"text","fontSize":12,"baseline":"middle"},
     "encoding":{"x":{"datum":4.25,"type":"quantitative"},"y":{"datum":338,"type":"quantitative"},"text":{"field":"label"}}},
    {"data":{"values":[{"label":"E"}]},"mark":{"type":"text","fontSize":11,"fontWeight":"bold","align":"left","baseline":"middle"},
     "encoding":{"x":{"datum":-0.81,"type":"quantitative"},"y":{"datum":418,"type":"quantitative"},"text":{"field":"label"}}}
  ]},
  {"layer":[
    {"data":{"name":"e"},"transform":[{"filter":"datum.c === '2–5'"}],
     "mark":{"type":"line","color":"black","strokeWidth":0.9},
     "encoding":{"x":{"field":"t","type":"quantitative"},"y":{"field":"v","type":"quantitative","scale":{"domain":[-907.5,394],"nice":false,"zero":false},"axis":null}}},
    {"data":{"values":[{"label":"2–5"}]},"mark":{"type":"text","fontSize":9,"align":"left","baseline":"middle"},
     "encoding":{"x":{"datum":8.51,"type":"quantitative"},"y":{"datum":0,"type":"quantitative"},"text":{"field":"label"}}}
  ]},
  {"layer":[
    {"data":{"name":"e"},"transform":[{"filter":"datum.c === '4–5'"}],
     "mark":{"type":"line","color":"black","strokeWidth":0.9},
     "encoding":{"x":{"field":"t","type":"quantitative"},"y":{"field":"v","type":"quantitative","scale":{"domain":[-489.6,811.9],"nice":false,"zero":false},"axis":null}}},
    {"data":{"values":[{"label":"4–5"}]},"mark":{"type":"text","fontSize":9,"align":"left","baseline":"middle"},
     "encoding":{"x":{"datum":8.51,"type":"quantitative"},"y":{"datum":0,"type":"quantitative"},"text":{"field":"label"}}}
  ]},
  {"layer":[
    {"data":{"name":"e"},"transform":[{"filter":"datum.c === '3–5'"}],
     "mark":{"type":"line","color":"black","strokeWidth":0.9},
     "encoding":{"x":{"field":"t","type":"quantitative"},"y":{"field":"v","type":"quantitative","scale":{"domain":[-35.9,1265.6],"nice":false,"zero":false},"axis":null}}},
    {"data":{"values":[{"label":"3–5"}]},"mark":{"type":"text","fontSize":9,"align":"left","baseline":"middle"},
     "encoding":{"x":{"datum":8.51,"type":"quantitative"},"y":{"datum":0,"type":"quantitative"},"text":{"field":"label"}}},
    {"data":{"values":[{"k":1,"t":0.7,"v":-203},{"k":2,"t":-0.3,"v":-203},{"k":3,"t":-0.3,"v":167}]},
     "mark":{"type":"line","color":"black","strokeWidth":1.3},
     "encoding":{"x":{"field":"t","type":"quantitative"},"y":{"field":"v","type":"quantitative"},"order":{"field":"k"}}},
    {"data":{"values":[{"label":"370 µV"}]},"mark":{"type":"text","fontSize":8,"angle":270,"baseline":"middle"},
     "encoding":{"x":{"datum":-0.539,"type":"quantitative"},"y":{"datum":6,"type":"quantitative"},"text":{"field":"label"}}},
    {"data":{"values":[{"label":"1 s"}]},"mark":{"type":"text","fontSize":8,"baseline":"middle"},
     "encoding":{"x":{"datum":0.068,"type":"quantitative"},"y":{"datum":-263,"type":"quantitative"},"text":{"field":"label"}}}
  ]}
 ],
 "resolve":{"scale":{"y":"independent"}}
},
{
 "width":188,"height":109,
 "layer":[
  {"layer":[
    {"data":{"name":"f"},"transform":[{"filter":"datum.c === '1–5'"}],
     "mark":{"type":"line","color":"black","strokeWidth":0.9},
     "encoding":{"x":{"field":"t","type":"quantitative","scale":{"domain":[0.266,6.0],"nice":false,"zero":false},"axis":null},
                 "y":{"field":"v","type":"quantitative","scale":{"domain":[-1170.3,33.1],"nice":false,"zero":false},"axis":null}}},
    {"data":{"values":[{"label":"1–5"}]},"mark":{"type":"text","fontSize":9,"align":"left","baseline":"middle"},
     "encoding":{"x":{"datum":6.12,"type":"quantitative"},"y":{"datum":0,"type":"quantitative"},"text":{"field":"label"}}},
    {"data":{"values":[{"label":"no evidence of ictal behavior"}]},"mark":{"type":"text","fontSize":12,"baseline":"middle"},
     "encoding":{"x":{"datum":3.31,"type":"quantitative"},"y":{"datum":312,"type":"quantitative"},"text":{"field":"label"}}},
    {"data":{"values":[{"label":"F"}]},"mark":{"type":"text","fontSize":11,"fontWeight":"bold","align":"left","baseline":"middle"},
     "encoding":{"x":{"datum":-0.71,"type":"quantitative"},"y":{"datum":386,"type":"quantitative"},"text":{"field":"label"}}}
  ]},
  {"layer":[
    {"data":{"name":"f"},"transform":[{"filter":"datum.c === '2–5'"}],
     "mark":{"type":"line","color":"black","strokeWidth":0.9},
     "encoding":{"x":{"field":"t","type":"quantitative"},"y":{"field":"v","type":"quantitative","scale":{"domain":[-839.1,364.3],"nice":false,"zero":false},"axis":null}}},
    {"data":{"values":[{"label":"2–5"}]},"mark":{"type":"text","fontSize":9,"align":"left","baseline":"middle"},
     "encoding":{"x":{"datum":6.12,"type":"quantitative"},"y":{"datum":0,"type":"quantitative"},"text":{"field":"label"}}}
  ]},
  {"layer":[
    {"data":{"name":"f"},"transform":[{"filter":"datum.c === '4–5'"}],
     "mark":{"type":"line","color":"black","strokeWidth":0.9},
     "encoding":{"x":{"field":"t","type":"quantitative"},"y":{"field":"v","type":"quantitative","scale":{"domain":[-441.6,761.8],"nice":false,"zero":false},"axis":null}}},
    {"data":{"values":[{"label":"4–5"}]},"mark":{"type":"text","fontSize":9,"align":"left","baseline":"middle"},
     "encoding":{"x":{"datum":6.12,"type":"quantitative"},"y":{"datum":0,"type":"quantitative"},"text":{"field":"label"}}}
  ]},
  {"layer":[
    {"data":{"name":"f"},"transform":[{"filter":"datum.c === '3–5'"}],
     "mark":{"type":"line","color":"black","strokeWidth":0.9},
     "encoding":{"x":{"field":"t","type":"quantitative"},"y":{"field":"v","type":"quantitative","scale":{"domain":[-33.2,1170.2],"nice":false,"zero":false},"axis":null}}},
    {"data":{"values":[{"label":"3–5"}]},"mark":{"type":"text","fontSize":9,"align":"left","baseline":"middle"},
     "encoding":{"x":{"datum":6.12,"type":"quantitative"},"y":{"datum":0,"type":"quantitative"},"text":{"field":"label"}}},
    {"data":{"values":[{"k":1,"t":0.82,"v":-188},{"k":2,"t":-0.18,"v":-188},{"k":3,"t":-0.18,"v":162}]},
     "mark":{"type":"line","color":"black","strokeWidth":1.3},
     "encoding":{"x":{"field":"t","type":"quantitative"},"y":{"field":"v","type":"quantitative"},"order":{"field":"k"}}},
    {"data":{"values":[{"label":"350 µV"}]},"mark":{"type":"text","fontSize":8,"angle":270,"baseline":"middle"},
     "encoding":{"x":{"datum":-0.765,"type":"quantitative"},"y":{"datum":33,"type":"quantitative"},"text":{"field":"label"}}},
    {"data":{"values":[{"label":"1 s"}]},"mark":{"type":"text","fontSize":8,"baseline":"middle"},
     "encoding":{"x":{"datum":0.25,"type":"quantitative"},"y":{"datum":-243,"type":"quantitative"},"text":{"field":"label"}}}
  ]}
 ],
 "resolve":{"scale":{"y":"independent"}}
}
]
}
